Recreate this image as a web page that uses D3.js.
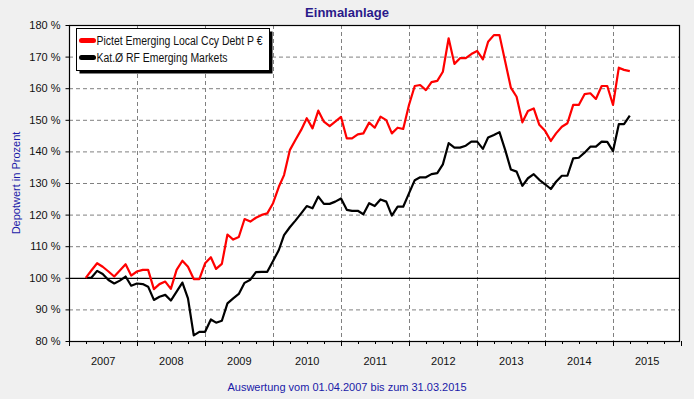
<!DOCTYPE html>
<html>
<head>
<meta charset="utf-8">
<script src="https://cdn.jsdelivr.net/npm/d3@7"></script>
<style>
  body { margin: 0; background: #f0f0f0; }
  svg { display: block; font-family: "Liberation Sans", Arial, sans-serif; }
</style>
</head>
<body>
<div id="chart"></div>
<script>
// monthly values from 01.04.2007 to 31.03.2015 (start = 100 %)
const startDate = new Date(2007, 3, 1);
const seriesNames = ["Pictet Emerging Local Ccy Debt P €", "Kat.Ø RF Emerging Markets"];
const pictet = [100, 102.3, 104.6, 103.5, 102, 100.4, 102.3, 104.3, 100.7, 102, 102.5, 102.5,
  96.4, 98, 98.8, 96.5, 102.5, 105.4, 103.5, 99.6, 99.6, 104.6, 106.5, 102.8,
  104.4, 113.7, 112.1, 112.9, 118.6, 117.8, 119, 119.9, 120.4, 123.6, 128.8, 132.5,
  140.4, 143.6, 146.8, 150.5, 147.3, 152.9, 149.4, 148, 149.4, 150.9, 144.1, 144.1,
  145.4, 145.7, 149.1, 147.5, 151, 149.9, 145.7, 147.5, 147.1, 154.7, 160.7, 161,
  159.4, 161.9, 162.3, 165.2, 175.8, 167.7, 169.5, 169.5, 170.8, 171.8, 169.1, 174.7,
  176.8, 176.8, 168.4, 160.2, 157.3, 149.2, 152.8, 153.6, 148.4, 146.5, 143.3, 145.7,
  147.8, 148.9, 154.7, 154.7, 158.1, 158.4, 156.6, 160.7, 160.7, 154.7, 166.5, 165.8, 165.4];
const category = [100, 100, 102.2, 101.2, 99.3, 98.2, 99.1, 100.4, 97.5, 98.2, 98, 97.2,
  93, 94, 94.6, 92.8, 95.6, 98.5, 93.5, 81.8, 82.9, 82.9, 86.8, 85.8,
  86.4, 91.9, 93.5, 94.9, 98.4, 99.4, 101.8, 101.9, 101.9, 105.3, 108.8, 113.5,
  116, 118.1, 120.4, 122.7, 122, 125.7, 123.4, 123.4, 124.1, 125.1, 121.5, 121.2,
  121.2, 120.1, 123.6, 122.7, 124.8, 124.1, 119.7, 122.5, 122.5, 126.7, 130.9, 131.8,
  131.8, 132.8, 133.1, 135.9, 142.6, 141.2, 141.2, 141.8, 143.1, 143.1, 140.8, 144.4,
  145.2, 146.1, 140.4, 134.3, 133.6, 129.1, 131.5, 132.8, 131, 129.6, 128.1, 130.4,
  132.3, 132.3, 137.8, 138, 139.6, 141.5, 141.5, 143.1, 143, 140.1, 148.6, 148.6, 151.3];
const yTicks = [80, 90, 100, 110, 120, 130, 140, 150, 160, 170, 180];
const years = [2007, 2008, 2009, 2010, 2011, 2012, 2013, 2014, 2015];
const colors = ["#ff0000", "#000000"];

const width = 694, height = 399;
const margin = {top: 25, right: 14, bottom: 58, left: 69};
const w = width - margin.left - margin.right;
const h = height - margin.top - margin.bottom;

let svg = d3.select("#chart").append("svg")
    .attr("width", width)
    .attr("height", height);

svg.append("rect").attr("width", width).attr("height", height).attr("fill", "#f0f0f0");

let plot = svg.append("g").attr("transform", `translate(${margin.left}, ${margin.top})`);

let x = d3.scaleTime()
    .domain([new Date(2007, 0, 1), new Date(2016, 0, 1)])
    .range([0, w + 1]);
let y = d3.scaleLinear().domain([80, 180]).range([h, 0]);

plot.append("rect").attr("width", w).attr("height", h).attr("fill", "#fff");

// grid
plot.selectAll(".hgrid").data(yTicks.filter(d => d != 80 && d != 180 && d != 100))
  .enter().append("line")
    .attr("x1", 0).attr("x2", w)
    .attr("y1", d => y(d) + 0.5).attr("y2", d => y(d) + 0.5)
    .attr("stroke", "#808080").attr("stroke-dasharray", "4,3");
plot.selectAll(".vgrid").data(years.slice(1))
  .enter().append("line")
    .attr("x1", d => Math.round(x(new Date(d, 0, 1))) + 0.5)
    .attr("x2", d => Math.round(x(new Date(d, 0, 1))) + 0.5)
    .attr("y1", 0).attr("y2", h)
    .attr("stroke", "#808080").attr("stroke-dasharray", "4,3");

// 100 % line
plot.append("line").attr("x1", 0).attr("x2", w)
    .attr("y1", y(100) + 0.5).attr("y2", y(100) + 0.5)
    .attr("stroke", "#000").attr("stroke-width", 1.3);

// y axis
let yAxis = plot.append("g").attr("transform", "translate(0.5,0)")
    .call(d3.axisLeft(y).tickValues(yTicks).tickSize(4).tickPadding(5).tickFormat(d => d + " %"));
yAxis.select(".domain").remove();
yAxis.selectAll("text").attr("font-size", 11).attr("fill", "#111").attr("font-family", "Liberation Sans, Arial, sans-serif");

// x axis: major ticks at years, minor at quarters
let quarters = d3.timeMonth.every(3).range(new Date(2007, 0, 1), new Date(2016, 0, 2));
let xAxis = plot.append("g").attr("transform", `translate(0.5, ${h})`);
xAxis.selectAll(".qt").data(quarters).enter().append("line")
    .attr("x1", d => Math.round(x(d))).attr("x2", d => Math.round(x(d)))
    .attr("y1", 0).attr("y2", d => d.getMonth() == 0 ? 5 : 3)
    .attr("stroke", "#000");
xAxis.selectAll(".yl").data(years).enter().append("text")
    .attr("x", d => x(new Date(d, 6, 1)))
    .attr("y", 24)
    .attr("text-anchor", "middle")
    .attr("font-size", 11).attr("fill", "#111")
    .text(d => d);

// frame
plot.append("rect").attr("x", 0.5).attr("y", 0.5).attr("width", w - 1).attr("height", h)
    .attr("fill", "none").attr("stroke", "#000").attr("stroke-width", 1.2);

// lines
let months = d3.range(pictet.length).map(i => d3.timeMonth.offset(startDate, i));
let line = d3.line().x((d, i) => x(months[i])).y(d => y(d));
[category, pictet].forEach(function(s, k) {
  plot.append("path").datum(s)
    .attr("d", line)
    .attr("fill", "none")
    .attr("stroke", k == 1 ? colors[0] : colors[1])
    .attr("stroke-width", 2.2)
    .attr("stroke-linejoin", "round");
});

// legend
let legendWidths = [166, 131];
let legend = svg.append("g").attr("transform", "translate(76.5, 28.5)");
legend.append("rect").attr("x", 3).attr("y", 3).attr("width", 193).attr("height", 42).attr("fill", "#000");
legend.append("rect").attr("width", 193).attr("height", 42).attr("fill", "#fff").attr("stroke", "#000");
seriesNames.forEach(function(name, i) {
  legend.append("line")
    .attr("x1", 5).attr("x2", 17)
    .attr("y1", 12 + i * 17).attr("y2", 12 + i * 17)
    .attr("stroke", colors[i]).attr("stroke-width", 5).attr("stroke-linecap", "round");
  legend.append("text")
    .attr("x", 20).attr("y", 16 + i * 17)
    .attr("font-size", 12).attr("fill", "#111")
    .attr("textLength", legendWidths[i]).attr("lengthAdjust", "spacingAndGlyphs")
    .text(name);
});

// titles
svg.append("text").attr("x", 347).attr("y", 17)
    .attr("text-anchor", "middle").attr("font-size", 13).attr("font-weight", "bold")
    .attr("fill", "#2a1a8a").text("Einmalanlage");
svg.append("text")
    .attr("transform", `translate(20, ${margin.top + h / 2}) rotate(-90)`)
    .attr("text-anchor", "middle").attr("font-size", 11)
    .attr("fill", "#1a1aa8").text("Depotwert in Prozent");
svg.append("text").attr("x", 347).attr("y", 391)
    .attr("text-anchor", "middle").attr("font-size", 11)
    .attr("fill", "#1a1aa8").text("Auswertung vom 01.04.2007 bis zum 31.03.2015");
</script>
</body>
</html>
